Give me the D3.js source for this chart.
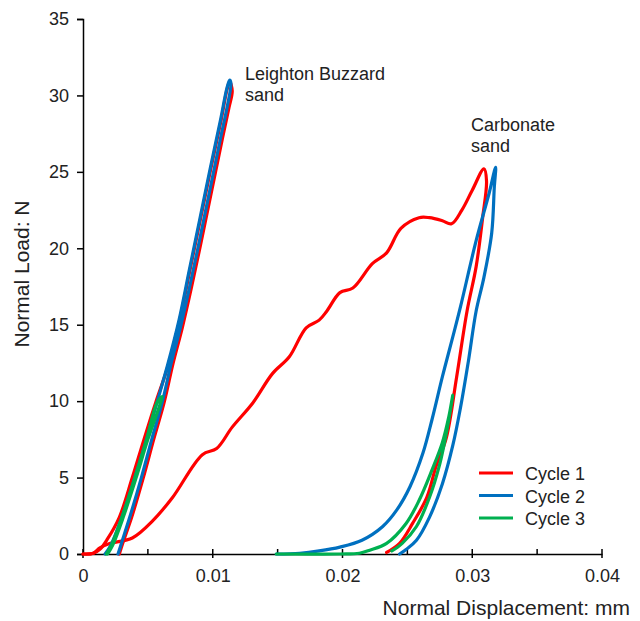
<!DOCTYPE html>
<html>
<head>
<meta charset="utf-8">
<script src="https://cdn.jsdelivr.net/npm/d3@7"></script>
<style>
  body { margin: 0; background: #fff; }
  svg { display: block; font-family: "Liberation Sans", Arial, sans-serif; }
</style>
</head>
<body>
<svg id="chart" width="640" height="621"></svg>
<script>
// Leighton Buzzard sand, [displacement mm, load N]
const lbCycle1 = [
  [0, 0], [0.0008, 0.05], [0.0013, 0.3], [0.0019, 1.0], [0.0028, 2.4], [0.0038, 5.0],
  [0.0047, 7.5], [0.0056, 9.9], [0.00655, 12.3], [0.00745, 15.3], [0.00825, 18.6],
  [0.00905, 21.9], [0.00985, 25.2], [0.01065, 28.4], [0.0111, 30.4], [0.0113, 30.9],
  [0.0115, 30.3], [0.01125, 29.2], [0.01075, 27.2], [0.00995, 23.9], [0.00915, 20.6],
  [0.00835, 17.4], [0.00765, 14.8], [0.00695, 12.5], [0.00625, 9.9], [0.00545, 7.5],
  [0.00465, 5.0], [0.00375, 2.4], [0.0031, 0.8], [0.0028, 0]
];
const lbCycle2 = [
  [0.0017, 0], [0.0021, 0.5], [0.0030, 2.4], [0.0040, 5.0], [0.0049, 7.5], [0.0057, 9.9],
  [0.0065, 12.3], [0.0074, 15.3], [0.0082, 18.6], [0.0090, 21.9], [0.0098, 25.2],
  [0.0106, 28.4], [0.0111, 30.5], [0.0113, 31.0], [0.0114, 30.8], [0.0111, 29.2],
  [0.0106, 27.2], [0.0098, 23.9], [0.0090, 20.6], [0.0082, 17.4], [0.0075, 14.8],
  [0.0068, 12.5], [0.0061, 9.9], [0.0053, 7.5], [0.0045, 5.0], [0.0036, 2.4],
  [0.0030, 0.8], [0.0027, 0]
];
const lbCycle3 = [
  [0.0018, 0], [0.0022, 0.6], [0.0030, 2.4], [0.0040, 5.0], [0.0049, 7.5], [0.0057, 9.9],
  [0.0061, 10.3], [0.0059, 9.7], [0.0050, 7.5], [0.0041, 5.0], [0.0031, 2.4],
  [0.0023, 0.6], [0.0019, 0]
];

// Carbonate sand
const cbCycle1 = [
  [0, 0], [0.0008, 0.05], [0.0013, 0.4], [0.0021, 0.7], [0.0038, 1.05], [0.0054, 2.2],
  [0.0069, 3.7], [0.0092, 6.5], [0.0103, 6.9], [0.0115, 8.3], [0.0131, 9.9],
  [0.0146, 11.8], [0.0159, 12.9], [0.0172, 14.8], [0.0182, 15.3], [0.0188, 15.9],
  [0.0198, 17.1], [0.0208, 17.4], [0.0223, 19.0], [0.0234, 19.7], [0.0245, 21.3],
  [0.0259, 22.0], [0.0267, 22.0], [0.0277, 21.8], [0.0284, 21.6], [0.0292, 22.5],
  [0.0300, 23.8], [0.0309, 25.2], [0.0311, 24.4], [0.0308, 22.0], [0.0303, 18.8],
  [0.0296, 15.9], [0.0288, 11.6], [0.0280, 7.6], [0.0272, 5.7], [0.0265, 3.7],
  [0.0254, 2.0], [0.0244, 0.7], [0.0234, 0.1]
];
const cbCycle2 = [
  [0.0149, 0], [0.0167, 0.05], [0.0182, 0.2], [0.0198, 0.45], [0.0215, 0.9], [0.0231, 1.8],
  [0.0242, 2.9], [0.0252, 4.4], [0.0262, 6.6], [0.0269, 8.8], [0.0277, 11.6],
  [0.0285, 14.2], [0.0291, 16.2], [0.0303, 20.5], [0.0313, 23.6], [0.0318, 25.3],
  [0.0317, 24.0], [0.0315, 21.0], [0.0309, 18.1], [0.0303, 15.9], [0.0297, 12.6],
  [0.0291, 9.6], [0.0285, 7.1], [0.0277, 4.6], [0.0267, 2.4], [0.0257, 0.9],
  [0.0249, 0.3], [0.0244, 0]
];
const cbCycle3 = [
  [0.0149, 0], [0.0198, 0], [0.0213, 0.05], [0.0221, 0.25], [0.0234, 0.7], [0.0249, 2.0],
  [0.0259, 3.5], [0.0269, 5.5], [0.0277, 7.3], [0.0282, 9.0], [0.0285, 10.4],
  [0.0280, 7.9], [0.0275, 5.9], [0.0267, 3.7], [0.0257, 1.8], [0.0246, 0.7], [0.0238, 0.2]
];

const seriesNames = ["Cycle 1", "Cycle 2", "Cycle 3"];
const seriesColors = ["#ff0000", "#0070c0", "#00b050"];
const xTicks = [0, 0.01, 0.02, 0.03, 0.04];
const xMinorTicks = [0.005, 0.015, 0.025, 0.035];
const yTicks = [0, 5, 10, 15, 20, 25, 30, 35];

const svg = d3.select("#chart");

const x = d3.scaleLinear().domain([0, 0.04]).range([83, 602]);
const y = d3.scaleLinear().domain([0, 35]).range([554, 19]);

const line = d3.line()
  .x(d => x(d[0]))
  .y(d => y(d[1]))
  .curve(d3.curveCatmullRom.alpha(0.5));

// axes
const xAxis = svg.append("g")
  .attr("transform", "translate(0," + y(0) + ")")
  .call(d3.axisBottom(x).tickValues(xTicks).tickSize(0).tickPadding(15)
    .tickFormat(d => d === 0 ? "0" : d3.format(".2f")(d).replace(/0$/, "")));
xAxis.select(".domain").attr("stroke", "#000").attr("stroke-width", 1.5);
xAxis.selectAll("text").attr("font-size", 18).attr("fill", "#222")
  .attr("font-family", "Liberation Sans, Arial, sans-serif");

// major ticks cross the axis, minor ones sit inside
svg.append("g").selectAll("line")
  .data(xTicks)
  .join("line")
  .attr("x1", d => x(d)).attr("x2", d => x(d))
  .attr("y1", y(0) - 5).attr("y2", y(0) + 4)
  .attr("stroke", "#000").attr("stroke-width", 1.5);
svg.append("g").selectAll("line")
  .data(xMinorTicks)
  .join("line")
  .attr("x1", d => x(d)).attr("x2", d => x(d))
  .attr("y1", y(0) - 5).attr("y2", y(0))
  .attr("stroke", "#000").attr("stroke-width", 1.5);

const yAxis = svg.append("g")
  .attr("transform", "translate(" + x(0) + ",0)")
  .call(d3.axisLeft(y).tickValues(yTicks).tickSize(6).tickPadding(8));
yAxis.select(".domain").attr("stroke", "#000").attr("stroke-width", 1.5);
yAxis.selectAll(".tick line").attr("stroke", "#000").attr("stroke-width", 1.5);
yAxis.selectAll("text").attr("font-size", 18).attr("fill", "#222")
  .attr("font-family", "Liberation Sans, Arial, sans-serif");

// axis titles
svg.append("text")
  .attr("x", 630).attr("y", 615)
  .attr("text-anchor", "end")
  .attr("font-size", 21).attr("fill", "#222")
  .text("Normal Displacement: mm");

svg.append("text")
  .attr("transform", "translate(29,274) rotate(-90)")
  .attr("text-anchor", "middle")
  .attr("font-size", 21).attr("fill", "#222")
  .text("Normal Load: N");

// curves, drawn cycle 1 first so later cycles sit on top
const groups = [
  [lbCycle1, cbCycle1],
  [lbCycle2, cbCycle2],
  [lbCycle3, cbCycle3]
];
groups.forEach((sets, i) => {
  sets.forEach(data => {
    svg.append("path")
      .datum(data)
      .attr("d", line)
      .attr("fill", "none")
      .attr("stroke", seriesColors[i])
      .attr("stroke-width", 3.2)
      .attr("stroke-linejoin", "round")
      .attr("stroke-linecap", "round");
  });
});

// annotations
const notes = [
  {lines: ["Leighton Buzzard", "sand"], x: 245, y: 80},
  {lines: ["Carbonate", "sand"], x: 471, y: 131}
];
notes.forEach(n => {
  const t = svg.append("text")
    .attr("x", n.x).attr("y", n.y)
    .attr("font-size", 18).attr("fill", "#222");
  n.lines.forEach((s, k) => {
    t.append("tspan").attr("x", n.x).attr("dy", k === 0 ? 0 : 21).text(s);
  });
});

// legend
const legend = svg.append("g");
seriesNames.forEach((name, i) => {
  const ly = 473 + i * 22.5;
  legend.append("line")
    .attr("x1", 479).attr("x2", 513)
    .attr("y1", ly).attr("y2", ly)
    .attr("stroke", seriesColors[i]).attr("stroke-width", 3.2);
  legend.append("text")
    .attr("x", 525).attr("y", ly + 7)
    .attr("font-size", 18).attr("fill", "#222")
    .text(name);
});
</script>
</body>
</html>
